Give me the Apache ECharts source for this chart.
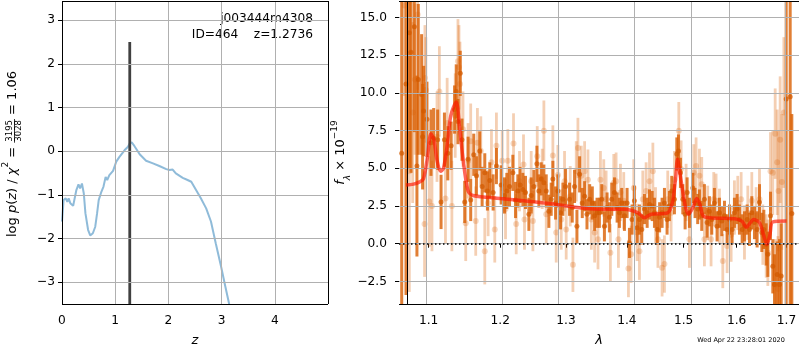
<!DOCTYPE html>
<html lang="en">
<head>
<meta charset="UTF-8">
<title>j003444m4308 - p(z) and spectrum</title>
<script src="https://cdn.jsdelivr.net/npm/echarts@6/dist/echarts.min.js"></script>
<style>
    html, body { margin: 0; padding: 0; background: #fff; }
    #main { width: 800px; height: 350px; }
</style>
</head>
<body>
<div id="main"></div>
<script>
// ---- left panel: log p(z) ----
var zGrid = [0, 0.03, 0.07, 0.10, 0.125, 0.156, 0.21, 0.24, 0.27, 0.31, 0.34, 0.375, 0.41, 0.44, 0.49, 0.53,
    0.58, 0.625, 0.66, 0.69, 0.74, 0.78, 0.82, 0.85, 0.89, 0.96, 1.02, 1.08, 1.175, 1.24, 1.27, 1.31, 1.36,
    1.46, 1.58, 1.71, 1.83, 1.96, 2.02, 2.08, 2.14, 2.27, 2.36, 2.43, 2.52, 2.61, 2.71, 2.80, 2.89, 2.99,
    3.07, 3.14, 3.19];
var logPz = [-1.61, -1.12, -1.08, -1.16, -1.08, -1.19, -1.25, -1.21, -0.89, -0.76, -0.85, -0.74, -0.97, -1.42,
    -1.80, -1.93, -1.88, -1.73, -1.42, -1.12, -0.93, -0.81, -0.59, -0.66, -0.55, -0.45, -0.24, -0.13, 0.02,
    0.10, 0.17, 0.20, 0.12, -0.07, -0.22, -0.28, -0.34, -0.41, -0.43, -0.42, -0.51, -0.61, -0.66, -0.70,
    -0.89, -1.08, -1.31, -1.61, -2.11, -2.64, -3.10, -3.49, -3.85];
var zBest = 1.2736;
var zLineTop = 2.5;
var zRange = [0, 5];
var pzRange = [-3.5, 3.44];
var zTicks = [0, 1, 2, 3, 4];
var pzTicks = [-3, -2, -1, 0, 1, 2, 3];

// ---- right panel: spectrum ----
var lamRange = [1.061, 1.726];
var fluxRange = [-4, 16.1];
var lamTicks = [1.1, 1.2, 1.3, 1.4, 1.5, 1.6, 1.7];
var fluxTicks = [-2.5, 0, 2.5, 5, 7.5, 10, 12.5, 15];

// solid points (dark orange)
var darkLam = [1.0645, 1.0701, 1.0744, 1.0766, 1.0810, 1.0844, 1.0862, 1.0906, 1.0919, 1.0932, 1.0977,
    1.1031, 1.1067, 1.1121, 1.1167, 1.1213, 1.1259, 1.1305, 1.1352, 1.1375, 1.1399, 1.1431, 1.1455, 1.1493,
    1.1540, 1.1577, 1.1620, 1.1658, 1.1705, 1.1739, 1.1777, 1.1815, 1.1849, 1.1897, 1.1945,
    1.2014, 1.2063, 1.2097, 1.2137, 1.2186, 1.2226, 1.2260, 1.2295, 1.2335, 1.2375, 1.2426, 1.2461, 1.2502,
    1.2548, 1.2578, 1.2614, 1.2655, 1.2691, 1.2732, 1.2768, 1.2794, 1.2836, 1.2872, 1.2914, 1.2951, 1.2993,
    1.3056, 1.3099, 1.3136, 1.3174, 1.3217, 1.3260, 1.3298, 1.3336, 1.3380, 1.3423, 1.3461, 1.3500,
    1.3539, 1.3578, 1.3622, 1.3666, 1.3705, 1.3744, 1.3789, 1.3834, 1.3873, 1.3912, 1.3958, 1.4003, 1.4043,
    1.4088, 1.4128, 1.4174, 1.4215, 1.4255, 1.4302, 1.4349, 1.4390, 1.4437, 1.4477, 1.4526, 1.4568, 1.4612,
    1.4654, 1.4701, 1.4743, 1.4785, 1.4833, 1.4876, 1.4906, 1.4942, 1.4985, 1.5027, 1.5064, 1.5106, 1.5168,
    1.5210, 1.5259,
    1.5291, 1.5334, 1.5384, 1.5434, 1.5478, 1.5522, 1.5572, 1.5623, 1.5668, 1.5713, 1.5764, 1.5815, 1.5860,
    1.5911, 1.5956, 1.6008, 1.6054, 1.6107, 1.6152, 1.6205, 1.6251, 1.6297, 1.6350, 1.6403, 1.6450, 1.6497,
    1.6537, 1.6584, 1.6618, 1.6672, 1.6719, 1.6753, 1.6808, 1.6856, 1.6890, 1.6993, 1.7076, 1.7110];
var darkFlux = [6.0, 10.6, 14.0, 12.7, 14.4, 5.15, 10.9, 9.9, 7.1, 8.8, 8.25,
    6.7, 7.0, 6.9, 2.77, 6.9, 6.0, 6.5, 8.9, 10.1, 8.1, 11.3, 6.9, 2.77, 5.6, 2.9, 5.9, 4.5, 6.15, 3.8, 4.7,
    3.5, 4.2, 3.4, 5.15,
    3.9, 3.2, 3.5, 3.8, 4.7, 2.9, 3.5, 3.9, 3.6, 3.4, 1.95, 3.2, 3.8, 5.3, 3.5, 4.3, 4.05, 3.5, 2.15, 2.95,
    4.3, 2.7, 3.5, 2.05, 2.95, 3.8, 2.95, 2.4, 3.8, 1.15, 4.6, 2.7, 3.15, 1.95, 2.95, 2.7, 1.85, 2.05,
    2.05, 2.95, 1.15, 2.4, 1.75, 2.95, 3.4, 2.4, 2.05, 2.7, 1.85, 2.7, 0.05, 1.6, 2.85, 1.05, 1.6, 0.95, 2.3,
    2.05, 2.6, 2.5, 2.05, 0.95, 1.75, 2.05, 2.7, 1.6, 2.5, 3.5, 2.95, 5.95, 6.15, 4.7, 2.95, 1.95, 3.4, 2.05,
    3.7, 2.7, 2.3,
    2.6, 1.85, 2.95, 1.4, 2.15, 1.6, 2.7, 1.15, 2.05, 1.5, 1.85, 0.95, 1.6, 0.95, 2.05, 2.3, 1.6, 0.95, 1.15,
    1.6, 0.95, 2.05, 1.4, 0.95, 2.75, 0.75, 0.95, -0.05, -0.7, 1.85, -1.5, -2.7, -2.05, -2.7, -2.15, 9.6,
    9.75, 2.0];
var darkErr = [20, 14, 9, 8, 7, 6, 5, 4, 3.5, 3, 2.5,
    2.2, 2, 2, 1.8, 1.8, 1.8, 1.6, 1.6, 1.8, 1.5, 1.5, 1.4, 1.4, 1.5, 1.4, 1.4, 1.3, 1.3, 1.3, 1.3, 1.3,
    1.2, 1.2, 1.2,
    1.3, 1.2, 1.2, 1.3, 1.2, 1.2, 1.1, 1.2, 1.1, 1.1, 1.1, 1.2, 1.1, 1.2, 1.1, 1.1, 1.2, 1.1, 1.1, 1.1,
    1.2, 1.1, 1.1, 1.1, 1.1, 1.2, 1.1, 1.0, 1.1, 1.1, 1.2, 1.0, 1.0, 1.0, 1.0, 1.1, 1.0, 1.0,
    1.0, 1.0, 1.0, 1.0, 1.0, 1.1, 1.0, 1.0, 1.0, 1.0, 1.0, 1.0, 1.0, 1.0, 1.0, 1.0, 1.0, 1.0, 1.0, 1.0,
    1.0, 1.0, 1.0, 1.0, 1.0, 1.0, 1.0, 1.0, 1.0, 1.0, 1.0, 1.1, 1.1, 1.0, 1.0, 1.0, 1.0, 1.0, 1.0, 1.0,
    1.0,
    1.0, 1.0, 1.0, 1.0, 1.0, 1.0, 1.0, 1.0, 1.0, 1.0, 1.0, 1.0, 1.0, 1.0, 1.0, 1.0, 1.0, 1.0, 1.0, 1.0,
    1.1, 1.1, 1.1, 1.2, 1.2, 1.3, 1.3, 1.4, 1.5, 1.6, 1.8, 2.0, 2.2, 3.0, 3.5, 14, 14, 6.6];

// faint points (light orange)
var lightLam = [1.0679, 1.0744, 1.0788, 1.0818, 1.0853, 1.0945, 1.0950, 1.0963, 1.1007, 1.1044, 1.1112,
    1.1144, 1.1227, 1.1250, 1.1315, 1.1361, 1.1399, 1.1413, 1.1427, 1.1469, 1.1507, 1.1540, 1.1577, 1.1648,
    1.1672, 1.1720, 1.1777, 1.1825, 1.1873, 1.1921, 1.1945,
    1.2029, 1.2078, 1.2112, 1.2196, 1.2236, 1.2285, 1.2345, 1.2360, 1.2461, 1.2487, 1.2553, 1.2629, 1.2655,
    1.2691, 1.2794, 1.2846, 1.2872, 1.2925, 1.2977, 1.3003, 1.3067, 1.3110, 1.3163, 1.3190, 1.3244, 1.3298,
    1.3352, 1.3407, 1.3461, 1.3516,
    1.3556, 1.3611, 1.3650, 1.3721, 1.3778, 1.3817, 1.3856, 1.3890, 1.3946, 1.4026, 1.4071, 1.4117, 1.4174,
    1.4215, 1.4273, 1.4331, 1.4390, 1.4449, 1.4496, 1.4538, 1.4612, 1.4654, 1.4713, 1.4773, 1.4833, 1.4912,
    1.4954, 1.5045, 1.5106, 1.5186, 1.5229,
    1.5291, 1.5334, 1.5384, 1.5446, 1.5509, 1.5560, 1.5604, 1.5668, 1.5732, 1.5815, 1.5892, 1.5956, 1.6021,
    1.6087, 1.6152, 1.6218, 1.6297, 1.6383, 1.6450, 1.6517, 1.6584, 1.6618, 1.6672, 1.6719, 1.6767, 1.6770,
    1.6808, 1.6822, 1.6835, 1.6869, 1.6904, 1.6945];
var lightFlux = [15.8, 4.8, 8.7, 10.9, 15.2, 1.3, 11.0, 10.2, 2.8, 2.5, 7.1, 10.1, 3.0, 8.0, 2.5, 8.5, 12.1,
    11.7, 10.6, 7.6, 1.35, 5.5, 6.8, 1.5, 6.7, 6.15, -0.5, 2.7, 5.4, 0.95, 6.5,
    5.5, 2.3, 5.5, 6.65, 1.3, 4.15, 5.25, 1.6, 4.15, 1.5, 5.8, 4.3, 7.5, 1.95, 5.85, 0.75, 4.55, 1.6, 4.15,
    0.95, 3.15, -1.4, 4.8, 6.35, 4.5, 4.8, 4.25, 1.6, 0.75, 0.3,
    4.25, 3.7, 2.95, -0.6, 4.05, 4.15, 0.3, 3.4, 2.85, -1.65, -0.7, 3.7, 0.75, -0.5, 2.95, 3.5, 4.15, 4.8,
    1.85, 0.3, -1.6, -1.35, 2.95, 2.05, 4.25, 7.5, 4.95, 3.4, 0.3, 4.7, 5.15,
    4.5, 3.95, 0.3, 2.05, 0.3, 2.95, 2.85, 1.85, -1.15, -0.15, 0.6, 2.4, 2.7, 2.95, 0.75, 2.05, 2.85, 1.85,
    2.95, 0.6, -0.15, -0.6, 4.8, 4.7, 7.3, -2.7, 5.4, -3.0, 3.5, 6.9, 4.1, 8.7];
var lightErr = [6, 8, 6, 5, 5, 3.5, 3.5, 3.5, 3, 3, 3, 3, 3, 3, 3, 2.8, 2.8, 2.8, 2.8, 2.5, 2.5, 2.5, 2.5,
    2.3, 2.3, 2.3, 2.2, 2.2, 2.2, 2.2, 2.2,
    2.0, 2.0, 2.1, 2.0, 2.0, 2.0, 2.0, 2.0, 2.0, 2.0, 2.0, 2.0, 2.0, 2.0, 2.0, 2.0, 2.0, 2.0, 2.0, 2.0,
    2.0, 1.8, 2.0, 2.0, 2.0, 2.0, 2.0, 2.0, 2.0, 2.0,
    1.9, 1.9, 1.9, 1.9, 1.9, 1.9, 1.9, 1.9, 1.9, 1.9, 1.9, 1.9, 1.9, 1.9, 1.9, 1.9, 1.9, 1.9, 1.9, 1.9,
    1.9, 1.9, 1.9, 1.9, 1.9, 1.9, 1.9, 1.9, 1.9, 1.9, 1.9,
    1.8, 1.8, 1.8, 1.8, 1.8, 1.8, 1.8, 1.8, 1.8, 1.8, 1.8, 1.8, 1.8, 1.8, 1.8, 1.8, 1.9, 1.9, 2.0, 2.0,
    2.1, 2.2, 2.6, 2.8, 3.0, 3.0, 3.5, 3.5, 4.0, 4.2, 4.5, 5.0];

// best-fit model (red)
var modelLam = [1.070, 1.080, 1.088, 1.093, 1.098, 1.103, 1.107, 1.111, 1.116, 1.120, 1.125, 1.130, 1.1375,
    1.142, 1.147, 1.154, 1.161, 1.200, 1.270, 1.345, 1.396, 1.419, 1.430, 1.442, 1.471, 1.4795, 1.485,
    1.489, 1.494, 1.503, 1.509, 1.517, 1.524, 1.530, 1.536, 1.550, 1.596, 1.610, 1.619, 1.627, 1.633,
    1.645, 1.653, 1.660, 1.666, 1.672, 1.700];
var modelFlux = [3.9, 3.95, 4.1, 4.3, 5.6, 7.3, 6.9, 5.6, 4.8, 5.0, 6.5, 8.5, 9.4, 7.8, 5.6, 3.5, 3.2, 3.0,
    2.68, 2.3, 2.28, 2.05, 1.72, 1.95, 2.05, 2.7, 4.2, 5.6, 4.5, 2.5, 1.95, 2.4, 3.0, 2.6, 1.85, 1.72,
    1.65, 1.5, 1.1, 1.4, 1.6, 1.4, 0.6, -0.05, 0.6, 1.45, 1.5];

var F = 'DejaVu Sans';
var GRID_C = '#b0b0b0';
var DARK = 'rgba(217,95,2,0.8)';
var DARK_PT = 'rgba(210,90,0,0.9)';
var LIGHT = 'rgba(217,95,2,0.3)';

function mpl(v) { return String(v).replace('-', '\u2212'); }

// wavelength axis is drawn in log10 units
function lg(v) { return Math.log10(v); }

var ctx = document.createElement('canvas').getContext('2d');
function tw(str, size, italic) {
    ctx.font = (italic ? 'italic ' : '') + size + 'px "DejaVu Sans"';
    return ctx.measureText(str).width;
}

function errorBars(lam, flux, err, color, w, z) {
    return {
        type: 'custom', xAxisIndex: 1, yAxisIndex: 1, z: z, silent: true,
        data: lam.map(function (l, i) { return [lg(l), flux[i], err[i]]; }),
        encode: { x: 0, y: 1 },
        renderItem: function (params, api) {
            var lo = api.coord([api.value(0), api.value(1) - api.value(2)]);
            var hi = api.coord([api.value(0), api.value(1) + api.value(2)]);
            var rect = echarts.graphic.clipRectByRect(
                { x: lo[0] - w / 2, y: hi[1], width: w, height: lo[1] - hi[1] },
                { x: params.coordSys.x, y: params.coordSys.y, width: params.coordSys.width, height: params.coordSys.height });
            return rect && { type: 'rect', shape: rect, style: { fill: color } };
        }
    };
}

function points(lam, flux, color, size, z) {
    return {
        type: 'scatter', xAxisIndex: 1, yAxisIndex: 1, z: z, silent: true,
        symbolSize: size, itemStyle: { color: color },
        data: lam.map(function (l, i) { return [lg(l), flux[i]]; })
    };
}

// grid lines + outer frame for one panel, drawn as mark lines
function frameSeries(xi, xTicks, yTicks, xr, yr) {
    var grid = xTicks.map(function (v) { return { xAxis: v }; })
        .concat(yTicks.map(function (v) { return { yAxis: v }; }));
    var frame = [{ xAxis: xr[0] }, { xAxis: xr[1] }, { yAxis: yr[0] }, { yAxis: yr[1] }];
    return [
        {
            type: 'line', xAxisIndex: xi, yAxisIndex: xi, z: 2, data: [],
            markLine: {
                silent: true, symbol: ['none', 'none'], label: { show: false },
                lineStyle: { color: GRID_C, width: 1, type: 'solid' }, data: grid
            }
        },
        {
            type: 'line', xAxisIndex: xi, yAxisIndex: xi, z: 9, data: [],
            markLine: {
                silent: true, symbol: ['none', 'none'], label: { show: false },
                lineStyle: { color: '#000', width: 1, type: 'solid' }, data: frame
            }
        }
    ];
}

var labelStyle = { color: '#000', fontSize: 12.2, fontFamily: F };
function ticks(custom) {
    return { show: true, length: 4, customValues: custom, lineStyle: { color: '#000', width: 1 } };
}

// y label of the left panel, laid out piece by piece (fraction stacked)
var FS = 13, SUP = 9, FR = 8.5;
var w1 = tw('log ', FS) + tw('p', FS, true) + tw('(', FS) + tw('z', FS, true) + tw(') / ', FS) +
    tw('\u03c7', FS, true) + tw('2', SUP) + tw(' = ', FS);
var wf = tw('3195', FR) + 2;
var w2 = tw(' = 1.06', FS);
var total = w1 + wf + w2;
var mainRich = {
    u: { fontSize: FS, fontFamily: F, fill: '#000', lineHeight: 22 },
    it: { fontSize: FS, fontFamily: F, fontStyle: 'italic', fill: '#000', lineHeight: 22 },
    sup: { fontSize: SUP, fontFamily: F, fill: '#000', lineHeight: 12, verticalAlign: 'top' },
    sub: { fontSize: SUP, fontFamily: F, fontStyle: 'italic', fill: '#000', lineHeight: 14, verticalAlign: 'bottom' }
};

var lamTicksLg = lamTicks.map(lg);
var lamRangeLg = lamRange.map(lg);

var chart = echarts.init(document.getElementById('main'));
var option = {
    animation: false,
    grid: [
        { left: 62, top: 1, width: 266, height: 303 },
        { left: 399, top: 1, width: 400, height: 303 }
    ],
    xAxis: [
        {
            gridIndex: 0, type: 'value', min: zRange[0], max: zRange[1],
            axisLine: { show: false }, axisTick: ticks(zTicks),
            axisLabel: Object.assign({ margin: 11, customValues: zTicks }, labelStyle),
            splitLine: { show: false }
        },
        {
            gridIndex: 1, type: 'value', min: lamRangeLg[0], max: lamRangeLg[1],
            axisLine: { show: false }, axisTick: ticks(lamTicksLg),
            axisLabel: Object.assign({
                margin: 11, customValues: lamTicksLg,
                formatter: function (v) { return Math.pow(10, v).toFixed(1); }
            }, labelStyle),
            splitLine: { show: false }
        }
    ],
    yAxis: [
        {
            gridIndex: 0, type: 'value', min: pzRange[0], max: pzRange[1],
            axisLine: { show: false }, axisTick: ticks(pzTicks),
            axisLabel: Object.assign({ margin: 7, customValues: pzTicks, formatter: mpl }, labelStyle),
            splitLine: { show: false }
        },
        {
            gridIndex: 1, type: 'value', min: fluxRange[0], max: fluxRange[1],
            axisLine: { show: false }, axisTick: ticks(fluxTicks),
            axisLabel: Object.assign({
                margin: 12, customValues: fluxTicks,
                formatter: function (v) { return mpl(v.toFixed(1)); }
            }, labelStyle),
            splitLine: { show: false }
        }
    ],
    series: frameSeries(0, zTicks, pzTicks, zRange, pzRange)
        .concat(frameSeries(1, lamTicksLg, fluxTicks, lamRangeLg, fluxRange))
        .concat([
        {
            type: 'line', xAxisIndex: 0, yAxisIndex: 0, showSymbol: false, silent: true, z: 3,
            lineStyle: { color: 'rgba(31,119,180,0.5)', width: 2 },
            data: zGrid.map(function (z, i) { return [z, logPz[i]]; })
        },
        {
            type: 'line', xAxisIndex: 0, yAxisIndex: 0, showSymbol: false, silent: true, z: 4,
            lineStyle: { color: '#404040', width: 2.8 },
            data: [[zBest, pzRange[0]], [zBest, zLineTop]]
        },
        errorBars(lightLam, lightFlux, lightErr, LIGHT, 2.8, 3),
        points(lightLam, lightFlux, LIGHT, 6, 3),
        errorBars(darkLam, darkFlux, darkErr, DARK, 3, 4),
        points(darkLam, darkFlux, DARK_PT, 5, 4),
        {
            type: 'line', xAxisIndex: 1, yAxisIndex: 1, showSymbol: false, silent: true, z: 5,
            smooth: 0.3,
            lineStyle: { color: 'rgba(255,20,0,0.65)', width: 3.5 },
            data: modelLam.map(function (l, i) { return [lg(l), modelFlux[i]]; })
        },
        {
            type: 'line', xAxisIndex: 1, yAxisIndex: 1, z: 6, data: [],
            markLine: {
                silent: true, symbol: ['none', 'none'], label: { show: false },
                lineStyle: { color: '#000', width: 1.5, type: [1.5, 2.5] },
                data: [{ yAxis: 0 }]
            }
        }
    ]),
    graphic: [
        {
            type: 'text', x: 313, y: 19,
            style: { text: 'j003444m4308', fill: '#000', fontSize: 12.2, fontFamily: F, align: 'right', verticalAlign: 'middle' }
        },
        {
            type: 'text', x: 313, y: 35,
            style: { text: 'ID=464    z=1.2736', fill: '#000', fontSize: 12.2, fontFamily: F, align: 'right', verticalAlign: 'middle' }
        },
        {
            type: 'text', x: 195, y: 341,
            style: { text: 'z', fill: '#000', fontSize: FS, fontFamily: F, fontStyle: 'italic', align: 'center', verticalAlign: 'middle' }
        },
        {
            type: 'text', x: 599, y: 341,
            style: { text: '\u03bb', fill: '#000', fontSize: FS, fontFamily: F, fontStyle: 'italic', align: 'center', verticalAlign: 'middle' }
        },
        {
            type: 'text', x: 741, y: 340,
            style: { text: 'Wed Apr 22 23:28:01 2020', fill: '#000', fontSize: 6.5, fontFamily: F, align: 'center', verticalAlign: 'middle' }
        },
        {
            type: 'group', x: 12.5, y: 154 + total / 2, rotation: Math.PI / 2,
            children: [
                {
                    type: 'text', x: 0, y: 0,
                    style: {
                        text: '{u|log }{it|p}{u|(}{it|z}{u|) / }{it|\u03c7}{sup|2}{u| = }',
                        rich: mainRich, align: 'left', verticalAlign: 'middle'
                    }
                },
                {
                    type: 'text', x: w1 + wf / 2, y: -2.4,
                    style: { text: '3195', fill: '#000', fontSize: FR, fontFamily: F, align: 'center', verticalAlign: 'middle' }
                },
                {
                    type: 'line', shape: { x1: w1, y1: 2, x2: w1 + wf, y2: 2 },
                    style: { stroke: '#000', lineWidth: 0.8 }
                },
                {
                    type: 'text', x: w1 + wf / 2, y: 6.4,
                    style: { text: '3028', fill: '#000', fontSize: FR, fontFamily: F, align: 'center', verticalAlign: 'middle' }
                },
                {
                    type: 'text', x: w1 + wf, y: 0,
                    style: { text: ' = 1.06', fill: '#000', fontSize: FS, fontFamily: F, align: 'left', verticalAlign: 'middle' }
                }
            ]
        },
        {
            type: 'group', x: 341, y: 152.5, rotation: Math.PI / 2,
            children: [
                {
                    type: 'text', x: 0, y: 0,
                    style: {
                        text: '{it|f}{sub|\u03bb}{u| \u00d7 10}{sup|\u221219}',
                        rich: mainRich, align: 'center', verticalAlign: 'middle'
                    }
                }
            ]
        }
    ]
};
chart.setOption(option);
</script>
</body>
</html>
